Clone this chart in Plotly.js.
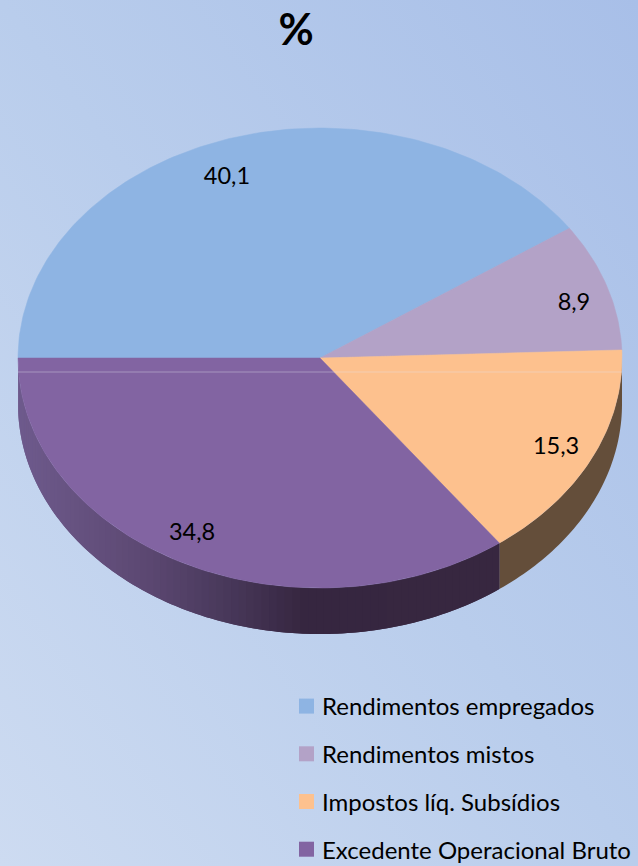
<!DOCTYPE html>
<html><head><meta charset="utf-8">
<script src="https://cdn.plot.ly/plotly-3.0.1.min.js"></script>
<style>
html,body{margin:0;padding:0;width:638px;height:866px;overflow:hidden;
background:linear-gradient(to bottom left,#a8bfe8 0%,#b9cdec 50%,#cddbf1 100%);}
#c{width:638px;height:866px;}
</style></head><body><div id="c"></div>
<script>
// Data
const categories = ['Rendimentos empregados','Rendimentos mistos','Impostos líq. Subsídios','Excedente Operacional Bruto'];
const values = [40.1, 8.9, 15.3, 34.8];
// Styles
const faceColors = ['#8eb4e3','#b3a2c7','#fdc18e','#8264a2'];
const legendColors = ['#8eb4e3','#b3a2c7','#fdc18e','#8264a2'];
const sideColors = [null, null, '#644e3a', null];
const shadeStops = [[-1,[110,90,140]],[-0.6,[92,72,114]],[-0.33,[72,56,90]],[-0.08,[54,38,64]],[1,[56,40,64]]];
const labelRx = [1.044,0.885,0.868,0.94];
const labelRy = [0.833,0.794,0.87,0.845];
const labelDrop = 3;
const fontFamily = 'Lato, "Open Sans", sans-serif';
// Layout constants (pixels of the picture; the ellipse has radii 1 on the data axes)
const W=638,H=866,cx=320,cy=358,rx=302,ry=230,depth=46;
const D = depth/ry;
const total = values.reduce((a,b)=>a+b,0);
const rad = d=>d*Math.PI/180;
const px = d=>Math.cos(rad(d)), py = d=>Math.sin(rad(d));
function arc(a0,a1,step){const n=Math.max(1,Math.ceil(Math.abs(a1-a0)/step));const o=[];for(let i=0;i<=n;i++)o.push(a0+(a1-a0)*i/n);return o;}
function shade(x){for(let i=1;i<shadeStops.length;i++){const [x0,c0]=shadeStops[i-1],[x1,c1]=shadeStops[i];if(x<=x1){const t=(x-x0)/(x1-x0);return 'rgb('+c0.map((v,k)=>Math.round(v+(c1[k]-v)*t)).join(',')+')';}}return 'rgb(56,40,64)';}
const sweeps=[];let ang=180;values.forEach(v=>{const e=ang-v/total*360;sweeps.push([ang,e]);ang=e;});
const traces=[];
function side(a0,a1,color){const a=arc(a0,a1,1);const xs=a.map(px).concat(a.slice().reverse().map(px));const ys=a.map(py).concat(a.slice().reverse().map(d=>py(d)-D));
 traces.push({type:'scatter',mode:'none',x:xs,y:ys,fill:'toself',fillcolor:color,hoverinfo:'skip',showlegend:false});}
sweeps.forEach(([s,e],i)=>{
 if(sideColors[i]&&i===2){side(e,Math.min(s,0),sideColors[i]);}
 else if(i===3){ // shaded band: each strip overlaps the one drawn before it, which hides the seams
   const st=arc(s,e,1.5);
   for(let k=0;k<st.length-1;k++){const a=st[k],b=st[k+1];
     side(b,Math.min(a+1.5,s),shade(px((a+b)/2)));}
 }
});
sweeps.forEach(([s,e],i)=>{const a=arc(s,e,1);
 traces.push({type:'scatter',mode:'lines',x:[0].concat(a.map(px),[0]),y:[0].concat(a.map(py),[0]),fill:'toself',fillcolor:faceColors[i],line:{color:faceColors[i],width:0.5},hoverinfo:'skip',showlegend:false});});
// value labels
traces.push({type:'scatter',mode:'text',
 x:sweeps.map(([s,e],i)=>px((s+e)/2)*labelRx[i]),
 y:sweeps.map(([s,e],i)=>py((s+e)/2)*labelRy[i]-labelDrop/ry),
 text:values.map(v=>v.toFixed(1).replace('.',',')),textposition:'middle center',
 textfont:{family:fontFamily,size:23.5,color:'#000'},hoverinfo:'skip',showlegend:false});
// legend
categories.forEach((c,i)=>traces.push({type:'scatter',mode:'markers',x:[null],y:[null],name:c,legendgroup:c,
 marker:{symbol:'square',size:15,color:legendColors[i]},hoverinfo:'skip'}));
const layout={width:W,height:H,margin:{l:0,r:0,t:0,b:0,pad:0,autoexpand:false},paper_bgcolor:'rgba(0,0,0,0)',plot_bgcolor:'rgba(0,0,0,0)',
 font:{family:fontFamily,color:'#000'},
 title:{text:'<b>%</b>',x:296/W,xanchor:'center',y:1-30/H,yanchor:'middle',font:{family:fontFamily,size:43,color:'#000'}},
 xaxis:{visible:false,range:[-cx/rx,(W-cx)/rx],fixedrange:true},
 yaxis:{visible:false,range:[(cy-H)/ry,cy/ry],fixedrange:true},
 showlegend:true,
 legend:{x:282/W,xanchor:'left',y:1-684/H,yanchor:'top',bgcolor:'rgba(0,0,0,0)',borderwidth:0,traceorder:'grouped',tracegroupgap:13.5,
  font:{family:fontFamily,size:24,color:'#000'},itemclick:false,itemdoubleclick:false},
 shapes:[{type:'line',xref:'x',yref:'y',x0:-1,x1:1,y0:-14/ry,y1:-14/ry,line:{color:'rgba(225,225,240,0.38)',width:1}}]
};
Plotly.newPlot('c',traces,layout,{displayModeBar:false,staticPlot:true}).then(()=>{
 document.querySelectorAll('.legendpoints').forEach(g=>g.setAttribute('transform','translate(4.5,0)'));
});
</script></body></html>
